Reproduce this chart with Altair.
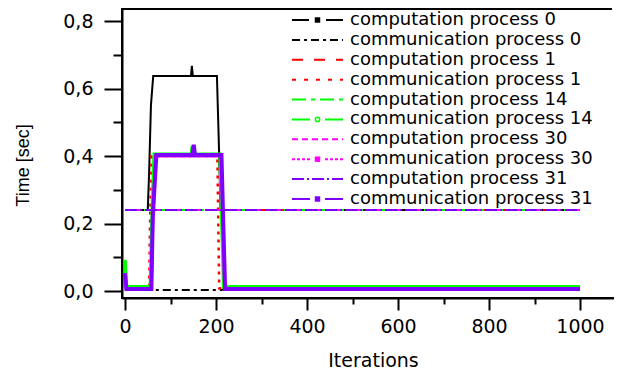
import altair as alt
import pandas as pd

# ---------------- data ----------------
names = [
    "computation process 0", "communication process 0",
    "computation process 1", "communication process 1",
    "computation process 14", "communication process 14",
    "computation process 30", "communication process 30",
    "computation process 31", "communication process 31",
]
colors = ["#000000", "#000000", "#ff0000", "#ff0000", "#00ff00",
          "#00ff00", "#ff00ff", "#ff00ff", "#8000ff", "#8000ff"]

comp0_x = [0, 50, 53, 57, 62, 145, 147, 149, 202, 206, 210, 1000]
comp0_y = [0.24, 0.24, 0.35, 0.55, 0.637, 0.637, 0.667, 0.637, 0.637, 0.45, 0.24, 0.24]

comm0_x = [0, 55, 60, 212, 218, 1000]
comm0_y = [0.006, 0.006, 0.003, 0.003, 0.006, 0.006]

comp1_x = [0, 1000]
comp1_y = [0.24, 0.24]

comm1_x = [0, 3, 53, 55, 58, 203, 205, 207, 1000]
comm1_y = [0.03, 0.008, 0.008, 0.2, 0.40, 0.40, 0.2, 0.008, 0.008]

comp14_x = [0, 1000]
comp14_y = [0.24, 0.24]

comm14_x = [0, 3, 56, 59, 64, 146, 148, 150, 209, 213, 217, 1000]
comm14_y = [0.092, 0.013, 0.013, 0.2, 0.405, 0.405, 0.43, 0.405, 0.405, 0.2, 0.013, 0.013]

comp30_x = [0, 1000]
comp30_y = [0.24, 0.24]

comm30_x = [0, 3, 58, 61, 67, 148, 151, 154, 211, 215, 219, 1000]
comm30_y = [0.05, 0.007, 0.007, 0.2, 0.40, 0.40, 0.43, 0.40, 0.40, 0.2, 0.007, 0.007]

comp31_x = [0, 1000]
comp31_y = [0.24, 0.24]

comm31_x = [0, 3, 58, 61, 69, 148, 151, 154, 212, 216, 220, 1000]
comm31_y = [0.053, 0.006, 0.006, 0.22, 0.403, 0.403, 0.433, 0.403, 0.403, 0.2, 0.006, 0.006]

x_ticks = [0, 100, 200, 300, 400, 500, 600, 700, 800, 900, 1000]
y_ticks = [0.0, 0.1, 0.2, 0.3, 0.4, 0.5, 0.6, 0.7, 0.8]
x_domain = [-6.6, 1074.7]
y_domain = [-0.0207, 0.8356]

series_x = [comp0_x, comm0_x, comp1_x, comm1_x, comp14_x, comm14_x, comp30_x, comm30_x, comp31_x, comm31_x]
series_y = [comp0_y, comm0_y, comp1_y, comm1_y, comp14_y, comm14_y, comp30_y, comm30_y, comp31_y, comm31_y]

rows = []
for name, xs, ys in zip(names, series_x, series_y):
    for xv, yv in zip(xs, ys):
        rows.append({"series": name, "iteration": xv, "value": yv})
df = pd.DataFrame(rows)

# ---------------- styles ----------------
FONT = "DejaVu Sans"
plot_dash = [None, [8, 4, 3, 4], [11, 11], [3, 5], [14, 5, 4, 5], None, [6, 4], None, [12, 3, 2, 3], None]
plot_width = [2, 2, 2, 2.5, 2, 3.5, 2, 3, 2, 4]
legend_dash = [
    [17, 17], [8, 4, 3, 4], [11, 11], [4, 8], [14, 5, 4, 5], [18, 15],
    [6, 4], [3, 2, 3, 2, 3, 2, 3, 15, 3, 2, 3, 2, 3, 2, 3, 60], [12, 3, 2, 3], [18, 15],
]

W, H = 492, 289
x_scale = alt.Scale(domain=x_domain, nice=False, zero=False)
y_scale = alt.Scale(domain=y_domain, nice=False, zero=False)

x_axis = alt.Axis(
    values=x_ticks,
    labelExpr="datum.value % 200 === 0 ? format(datum.value, 'd') : ''",
    tickSize={"condition": {"test": "datum.value % 200 === 0", "value": 12}, "value": 6},
    tickWidth=2, tickColor="black", domainWidth=2, domainColor="black",
    labelFont=FONT, labelFontSize=19, labelColor="black", labelPadding=7,
    labelFlush=False, labelOverlap=False, grid=False,
    title="Iterations", titleFont=FONT, titleFontSize=19, titleFontWeight="normal",
    titleColor="black", titleX=251, titleY=68, titleBaseline="alphabetic",
)
y_axis = alt.Axis(
    values=y_ticks,
    labelExpr="round(datum.value*10) % 2 === 0 ? replace(format(datum.value, '.1f'), '.', ',') : ''",
    tickSize={"condition": {"test": "round(datum.value*10) % 2 === 0", "value": 18}, "value": 9},
    tickWidth=2, tickColor="black", domainWidth=2, domainColor="black",
    labelFont=FONT, labelFontSize=19, labelColor="black", labelPadding=11,
    labelFlush=False, labelOverlap=False, grid=False,
    title="Time [sec]", titleFont="Liberation Sans", titleFontSize=18, titleFontWeight="normal",
    titleColor="black", titleX=-94, titleY=156, titleBaseline="alphabetic",
)

line_layers = []
for i, name in enumerate(names):
    kw = dict(color=colors[i], strokeWidth=plot_width[i], strokeCap="butt", strokeJoin="miter")
    if plot_dash[i] is not None:
        kw["strokeDash"] = plot_dash[i]
    line_layers.append(
        alt.Chart(df).transform_filter(alt.datum.series == name).mark_line(**kw).encode(
            x=alt.X("iteration:Q", scale=x_scale, axis=x_axis),
            y=alt.Y("value:Q", scale=y_scale, axis=y_axis),
        )
    )
lines = alt.layer(*line_layers)

# ---------------- legend (drawn inside the plot) ----------------
leg_df = pd.DataFrame({"name": names, "row": list(range(len(names)))})
leg_y = alt.Y("row:Q", scale=alt.Scale(domain=[0, 9], range=[11, 190]), axis=None)
col_enc = alt.Color("name:N", scale=alt.Scale(domain=names, range=colors), legend=None)

leg_rule = alt.Chart(leg_df).mark_rule(strokeWidth=2, strokeCap="butt").encode(
    x=alt.value(170), x2=alt.value(221), y=leg_y, color=col_enc,
    strokeDash=alt.StrokeDash("name:N", scale=alt.Scale(domain=names, range=legend_dash), legend=None),
)
square_rows = [0, 7, 9]
circle_rows = [5]
sq_df = leg_df[leg_df["row"].isin(square_rows)]
ci_df = leg_df[leg_df["row"].isin(circle_rows)]
leg_sq = alt.Chart(sq_df).mark_square(size=30, opacity=1).encode(
    x=alt.value(195.5), y=leg_y, color=col_enc,
)
leg_ci = alt.Chart(ci_df).mark_point(shape="circle", size=18, filled=False, strokeWidth=1.5, opacity=1).encode(
    x=alt.value(195.5), y=leg_y, color=col_enc,
)
leg_text = alt.Chart(leg_df).mark_text(align="left", baseline="middle", font=FONT, fontSize=18, color="black").encode(
    x=alt.value(228), y=leg_y, text="name:N",
)
legend = alt.layer(leg_rule, leg_sq, leg_ci, leg_text)

# the reference frame is open on the right: mask the right edge of the view box
mask_right = alt.Chart(pd.DataFrame({"k": [0]})).mark_rule(color="white", strokeWidth=4).encode(
    x=alt.value(W), y=alt.value(-2), y2=alt.value(H - 1),
)

chart = alt.layer(lines, legend, mask_right).resolve_scale(y="independent").properties(
    width=W, height=H,
    autosize=alt.AutoSizeParams(type="none"),
    padding={"left": 114, "top": 1, "right": 0, "bottom": 72},
).configure_view(stroke="black", strokeWidth=2)

chart.save("out.html", embed_options={"renderer": "svg", "actions": False})
